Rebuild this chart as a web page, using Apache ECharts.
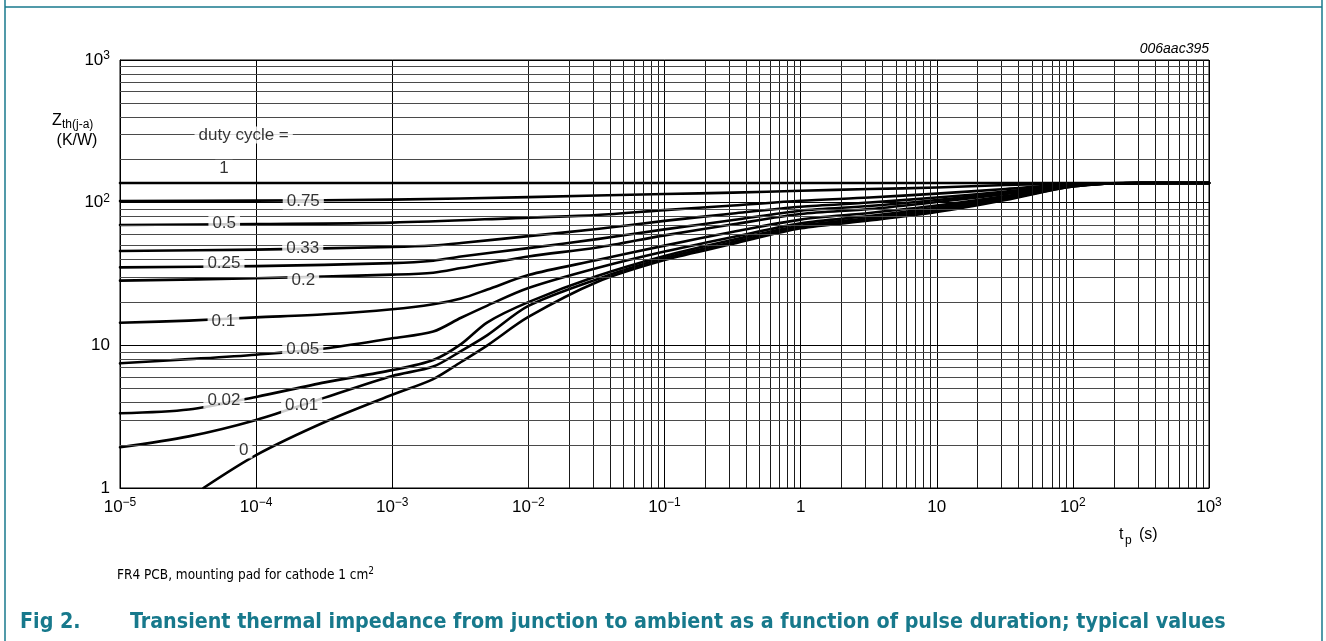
<!DOCTYPE html>
<html><head><meta charset="utf-8">
<script src="https://cdn.jsdelivr.net/npm/echarts@6/dist/echarts.min.js"></script>
<style>html,body{margin:0;padding:0;background:#fff;}#c{width:1326px;height:641px;}</style>
</head><body><div id="c"></div>
<script>
// ---------- data (pulse duration tp in s, Zth in K/W) ----------
const tp_1   = [1e-5, 1000];
const z_1    = [137.2, 137.2];
const tp_075 = [1e-5,1e-4,1e-3,1e-2,0.1,0.32,1,3.2,10,32,100,320,1000];
const z_075  = [102.6,103.4,105.1,109.4,115.0,117.6,121.2,124.6,127.6,132.9,136.1,137.2,137.2];
const tp_05  = [1e-5,1e-4,1e-3,1e-2,3.2e-2,0.1,0.32,1,3.2,10,32,100,320,1000];
const z_05   = [69.7,70.8,72.5,78.6,81.8,88.7,95.5,103.1,108.6,115.8,124.6,135.0,137.2,137.2];
const tp_mid = [1e-5,1e-4,1e-3,2e-3,3.2e-3,1e-2,3.2e-2,0.1,0.32,1,3.2,10,32,100,320,1000];
const z_033  = [45.8,46.9,48.9,50.1,52.1,58.3,65.3,74.5,84.0,93.6,100.2,108.6,119.6,133.9,137.2,137.2];
const z_025  = [35.2,35.9,37.7,39.2,41.9,48.0,55.5,65.0,75.5,87.8,94.7,104.3,116.8,132.9,137.2,137.2];
const z_02   = [28.4,29.5,31.3,32.3,34.8,42.0,48.5,59.0,70.5,83.2,90.2,101.0,114.9,132.9,137.2,137.2];
const tp_low = [1e-5,3.2e-5,1e-4,3.2e-4,1e-3,2e-3,3.2e-3,5e-3,1e-2,3.2e-2,0.1,0.32,1,3.2,10,32,100,320,1000];
const z_01   = [14.4,14.9,15.7,16.5,17.9,19.4,21.3,24.6,31.1,39.6,50.0,62.5,76.1,84.6,95.4,111.2,131.8,137.2,137.2];
const z_005  = [7.48,8.0,8.6,9.5,11.2,12.5,15.6,19.0,25.2,34.8,45.4,57.5,71.6,80.6,92.4,108.6,130.7,137.2,137.2];
const z_002  = [3.34,3.55,4.35,5.5,6.7,7.89,10.2,14.5,20.1,30.6,42.3,55.0,68.9,78.0,90.2,106.9,130.7,137.2,137.2];
const z_001  = [1.93,2.30,3.0,4.3,6.1,7.10,9.12,11.8,18.9,29.1,40.9,53.0,67.1,76.1,88.0,105.9,129.7,137.2,137.2];
const tp_0   = [4.1e-5,1e-4,3.2e-4,1e-3,2e-3,3.2e-3,5e-3,1e-2,3.2e-2,0.1,0.32,1,3.2,10,32,100,320,1000];
const z_0    = [1.0,1.70,2.90,4.5,5.8,7.64,10.0,15.8,27.8,39.6,51.5,66.1,74.9,85.9,104.3,129.7,137.2,137.2];

const dutyCycles = ['1','0.75','0.5','0.33','0.25','0.2','0.1','0.05','0.02','0.01','0'];
const curveT = [tp_1, tp_075, tp_05, tp_mid, tp_mid, tp_mid, tp_low, tp_low, tp_low, tp_low, tp_0];
const curveZ = [z_1, z_075, z_05, z_033, z_025, z_02, z_01, z_005, z_002, z_001, z_0];

// inline curve labels (anchor in data coordinates)
const labelText = ['duty cycle =','1','0.75','0.5','0.33','0.25','0.2','0.1','0.05','0.02','0.01','0'];
const labelT    = [8.1e-5,5.8e-5,2.22e-4,5.83e-5,2.2e-4,5.8e-5,2.22e-4,5.75e-5,2.2e-4,5.8e-5,2.16e-4,8.1e-5];
const labelZ    = [298,174,102.6,71.6,47.8,37.5,28.7,14.8,9.38,4.14,3.77,1.85];

const xMin = 1e-5, xMax = 1000, yMin = 1, yMax = 1000;

// ---------- chart ----------
const FONT = "'Liberation Sans', Arial, Helvetica, sans-serif";
const NARROW = "'Liberation Sans Narrow', 'Arial Narrow', 'DejaVu Sans Condensed', 'Liberation Sans', sans-serif";
const TEAL = '#17798c';

function pow10Label(v) {
  const e = Math.round(Math.log10(v));
  if (e === 0) return '{b|1}';
  if (e === 1) return '{b|10}';
  return '{b|10}{s|' + (e < 0 ? '\u2212' + (-e) : String(e)) + '}';
}
const tickRich = {
  b: { fontSize: 17, fontFamily: FONT, color: '#000', lineHeight: 20, verticalAlign: 'middle' },
  s: { fontSize: 12, fontFamily: FONT, color: '#000', lineHeight: 8, verticalAlign: 'top' }
};

const vLines = [], hLines = [];
for (let e = Math.log10(xMin); e < Math.log10(xMax); e++)
  for (let m = 2; m <= 9; m++) vLines.push({ xAxis: m * Math.pow(10, e) });
for (let e = Math.log10(yMin); e < Math.log10(yMax); e++)
  for (let m = 2; m <= 9; m++) hLines.push({ yAxis: m * Math.pow(10, e) });

const series = [];
series.push({
  type: 'line', data: [[xMin, yMin]], showSymbol: false, lineStyle: { opacity: 0 },
  silent: true, z: 1,
  markLine: {
    silent: true, symbol: ['none', 'none'], label: { show: false }, animation: false,
    data: vLines.map(d => Object.assign({ lineStyle: { color: '#1a1a1a', width: 1, type: 'solid' } }, d))
      .concat(hLines.map(d => Object.assign({ lineStyle: { color: '#4a4a4a', width: 1, type: 'solid' } }, d)))
  }
});
dutyCycles.forEach((d, i) => {
  series.push({
    name: 'D=' + d, type: 'line', showSymbol: false, smooth: 0.3,
    z: 3, silent: true,
    lineStyle: { color: '#000', width: 2.6, join: 'round', cap: 'round' },
    data: curveT[i].map((t, k) => [t, curveZ[i][k]])
  });
});
series.push({
  type: 'scatter', z: 10, silent: true, symbolSize: 1,
  itemStyle: { color: 'rgba(0,0,0,0)' },
  label: {
    show: true, position: 'inside', formatter: p => p.data.name,
    fontFamily: FONT, fontSize: 17, color: '#000',
    backgroundColor: '#fff', padding: [0, 4, 0, 4], lineHeight: 17
  },
  data: labelText.map((s, i) => ({ name: s, value: [labelT[i], labelZ[i]] }))
});

const chart = echarts.init(document.getElementById('c'), null, { renderer: 'canvas' });
chart.setOption({
  animation: false,
  backgroundColor: '#fff',
  grid: { left: 120, right: 117, top: 60, bottom: 153, show: true, borderColor: '#000', borderWidth: 1 },
  xAxis: {
    type: 'log', logBase: 10, min: xMin, max: xMax,
    axisLine: { show: true, lineStyle: { color: '#000', width: 1 } },
    axisTick: { show: false },
    splitLine: { show: true, lineStyle: { color: '#000', width: 1 } },
    axisLabel: { margin: 9, formatter: pow10Label, rich: tickRich }
  },
  yAxis: {
    type: 'log', logBase: 10, min: yMin, max: yMax,
    axisLine: { show: true, lineStyle: { color: '#000', width: 1 } },
    axisTick: { show: false },
    splitLine: { show: true, lineStyle: { color: '#000', width: 1 } },
    axisLabel: { margin: 10, formatter: pow10Label, rich: tickRich }
  },
  series: series,
  graphic: [
    { type: 'line', silent: true, shape: { x1: 5, y1: 0, x2: 5, y2: 641 }, style: { stroke: TEAL, lineWidth: 1.5 } },
    { type: 'line', silent: true, shape: { x1: 1322, y1: 0, x2: 1322, y2: 641 }, style: { stroke: TEAL, lineWidth: 1.5 } },
    { type: 'line', silent: true, shape: { x1: 5, y1: 7, x2: 1322, y2: 7 }, style: { stroke: TEAL, lineWidth: 1.5 } },
    { type: 'text', silent: true, x: 1209, y: 49, style: { text: '006aac395', font: 'italic 14px ' + FONT, fill: '#000', align: 'right', verticalAlign: 'middle' } },
    { type: 'text', silent: true, x: 52, y: 121, style: { text: 'Z', font: '16px ' + FONT, fill: '#000', verticalAlign: 'middle' } },
    { type: 'text', silent: true, x: 62, y: 125, style: { text: 'th(j-a)', font: '12px ' + FONT, fill: '#000', verticalAlign: 'middle' } },
    { type: 'text', silent: true, x: 77, y: 141, style: { text: '(K/W)', font: '16px ' + FONT, fill: '#000', align: 'center', verticalAlign: 'middle' } },
    { type: 'text', silent: true, x: 1119, y: 535, style: { text: 't', font: '16px ' + FONT, fill: '#000', verticalAlign: 'middle' } },
    { type: 'text', silent: true, x: 1125, y: 541, style: { text: 'p', font: '12px ' + FONT, fill: '#000', verticalAlign: 'middle' } },
    { type: 'text', silent: true, x: 1139, y: 535, style: { text: '(s)', font: '16px ' + FONT, fill: '#000', verticalAlign: 'middle' } },
    { type: 'text', silent: true, x: 117, y: 575, style: {
        text: '{a|FR4 PCB, mounting pad for cathode 1 cm}{s|2}', verticalAlign: 'middle',
        rich: {
          a: { fontSize: 13.5, fontFamily: NARROW, fill: '#000', lineHeight: 18, verticalAlign: 'middle' },
          s: { fontSize: 10, fontFamily: NARROW, fill: '#000', lineHeight: 8, verticalAlign: 'top' }
        } } },
    { type: 'text', silent: true, x: 20, y: 622, style: { text: 'Fig 2.', font: 'bold 21.3px ' + NARROW, fill: TEAL, verticalAlign: 'middle' } },
    { type: 'text', silent: true, x: 130, y: 622, style: { text: 'Transient thermal impedance from junction to ambient as a function of pulse duration; typical values', font: 'bold 21.3px ' + NARROW, fill: TEAL, verticalAlign: 'middle' } }
  ]
});
</script>
</body></html>
